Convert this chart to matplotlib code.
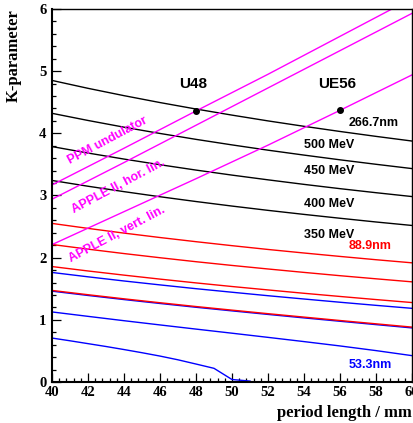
import matplotlib
matplotlib.use("Agg")
import matplotlib.pyplot as plt
from matplotlib.ticker import MultipleLocator

# ---------------- data ----------------
period = [40, 42, 44, 46, 48, 50, 52, 54, 56, 58, 60]

# 266.7 nm (black) for 500, 450, 400, 350 MeV
k_2667_500 = [4.851, 4.724, 4.606, 4.495, 4.391, 4.293, 4.200, 4.113, 4.030, 3.951, 3.876]
k_2667_450 = [4.322, 4.207, 4.099, 3.998, 3.903, 3.814, 3.729, 3.650, 3.574, 3.502, 3.433]
k_2667_400 = [3.787, 3.683, 3.586, 3.495, 3.409, 3.328, 3.252, 3.179, 3.110, 3.045, 2.983]
k_2667_350 = [3.242, 3.149, 3.062, 2.980, 2.903, 2.830, 2.761, 2.696, 2.634, 2.574, 2.518]

# 88.9 nm (red)
k_889_500 = [2.551, 2.471, 2.395, 2.324, 2.257, 2.193, 2.132, 2.075, 2.020, 1.967, 1.917]
k_889_450 = [2.212, 2.137, 2.066, 1.999, 1.935, 1.875, 1.818, 1.763, 1.710, 1.660, 1.611]
k_889_400 = [1.857, 1.786, 1.719, 1.655, 1.594, 1.536, 1.481, 1.427, 1.376, 1.326, 1.278]
k_889_350 = [1.473, 1.404, 1.338, 1.275, 1.214, 1.156, 1.099, 1.044, 0.989, 0.936, 0.883]

# 53.3 nm (blue)
k_533_500 = [1.762, 1.692, 1.625, 1.562, 1.501, 1.444, 1.388, 1.335, 1.283, 1.233, 1.185]
k_533_450 = [1.461, 1.392, 1.326, 1.263, 1.202, 1.144, 1.087, 1.031, 0.977, 0.923, 0.870]
k_533_400 = [1.127, 1.056, 0.986, 0.918, 0.851, 0.785, 0.718, 0.650, 0.580, 0.505, 0.424]
period_533_350 = [40, 41, 42, 43, 44, 45, 46, 47, 48, 49, 50, 51]
k_533_350 = [0.707, 0.663, 0.617, 0.571, 0.522, 0.471, 0.417, 0.357, 0.289, 0.220, 0.040, 0.015]

# undulator K(period) curves (magenta)
period_und = [40, 44, 48, 52, 56, 60]
k_ppm = [3.17, 3.76, 4.36, 4.95, 5.56, 6.17]
k_apple_hor = [2.94, 3.53, 4.13, 4.73, 5.33, 5.93]
k_apple_vert = [2.21, 2.74, 3.27, 3.81, 4.37, 4.94]

# operating points
dot_period = [48, 56]
dot_k = [4.36, 4.37]
dot_names = ["U48", "UE56"]

energy_labels = ["500 MeV", "450 MeV", "400 MeV", "350 MeV"]
energy_label_k = [3.82, 3.39, 2.86, 2.36]

# ---------------- figure ----------------
W, H = 414, 423
fig = plt.figure(figsize=(W / 100, H / 100), dpi=100)
ax = fig.add_axes([52 / W, 1 - 382 / H, 360 / W, 373 / H])

SANS = "Liberation Sans"
SERIF = "Liberation Serif"
lw = 1.0

for k in (k_2667_500, k_2667_450, k_2667_400, k_2667_350):
    ax.plot(period, k, color="black", lw=lw)
for k in (k_533_500, k_533_450, k_533_400):
    ax.plot(period, k, color="#0000ff", lw=lw)
ax.plot(period_533_350, k_533_350, color="#0000ff", lw=lw)
for k in (k_889_500, k_889_450, k_889_400, k_889_350):
    ax.plot(period, k, color="#ff0000", lw=lw)
for k in (k_ppm, k_apple_hor, k_apple_vert):
    ax.plot(period_und, k, color="#ff00ff", lw=lw)

ax.plot(dot_period, dot_k, "o", color="black", ms=4, zorder=5)
for p, kk, name in zip(dot_period, dot_k, dot_names):
    ax.text(p - 0.15, kk + 0.43, name, ha="center", va="center",
            fontsize=11, fontweight="bold", family=SANS)

ax.text(56.5, 4.17, "266.7nm", ha="left", va="center", fontsize=9,
        fontweight="bold", family=SANS, color="black")
for lab, kk in zip(energy_labels, energy_label_k):
    ax.text(54.0, kk, lab, ha="left", va="center", fontsize=9,
            fontweight="bold", family=SANS, color="black")
ax.text(56.5, 2.19, "88.9nm", ha="left", va="center", fontsize=9,
        fontweight="bold", family=SANS, color="#ff0000")
ax.text(56.5, 0.27, "53.3nm", ha="left", va="center", fontsize=9,
        fontweight="bold", family=SANS, color="#0000ff")

ax.text(43.1, 3.88, "PPM undulator", rotation=28, ha="center", va="center",
        fontsize=9, fontweight="bold", family=SANS, color="#ff00ff",
        rotation_mode="anchor")
ax.text(43.7, 3.15, "APPLE II, hor. lin.", rotation=28, ha="center", va="center",
        fontsize=9, fontweight="bold", family=SANS, color="#ff00ff",
        rotation_mode="anchor")
ax.text(43.6, 2.38, "APPLE II, vert. lin.", rotation=28, ha="center", va="center",
        fontsize=9, fontweight="bold", family=SANS, color="#ff00ff",
        rotation_mode="anchor")

ax.set_xlim(40, 60)
ax.set_ylim(0, 6)
ax.xaxis.set_major_locator(MultipleLocator(2))
ax.xaxis.set_minor_locator(MultipleLocator(0.4))
ax.yaxis.set_major_locator(MultipleLocator(1))
ax.yaxis.set_minor_locator(MultipleLocator(0.2))
ax.tick_params(which="both", direction="in", top=False, right=False)
ax.tick_params(which="major", length=6.5, width=0.9)
ax.tick_params(which="minor", length=3.2, width=0.9)
ax.tick_params(axis="x", pad=3)
ax.tick_params(axis="y", pad=4)
for lbl in ax.get_xticklabels() + ax.get_yticklabels():
    lbl.set_fontfamily(SERIF)
    lbl.set_fontweight("bold")
    lbl.set_fontsize(10.5)
ax.spines["left"].set_linewidth(1.5)
ax.spines["bottom"].set_linewidth(1.5)
ax.spines["top"].set_linewidth(1.0)
ax.spines["right"].set_linewidth(1.0)

fig.text(14 / W, 1 - 56 / H, "K-parameter", rotation=90, ha="center", va="center",
         fontsize=12, fontweight="bold", family=SERIF)
fig.text(412 / W, 1 - 413 / H, "period length / mm", ha="right", va="center",
         fontsize=12, fontweight="bold", family=SERIF)

fig.savefig("out.png", dpi=100)
